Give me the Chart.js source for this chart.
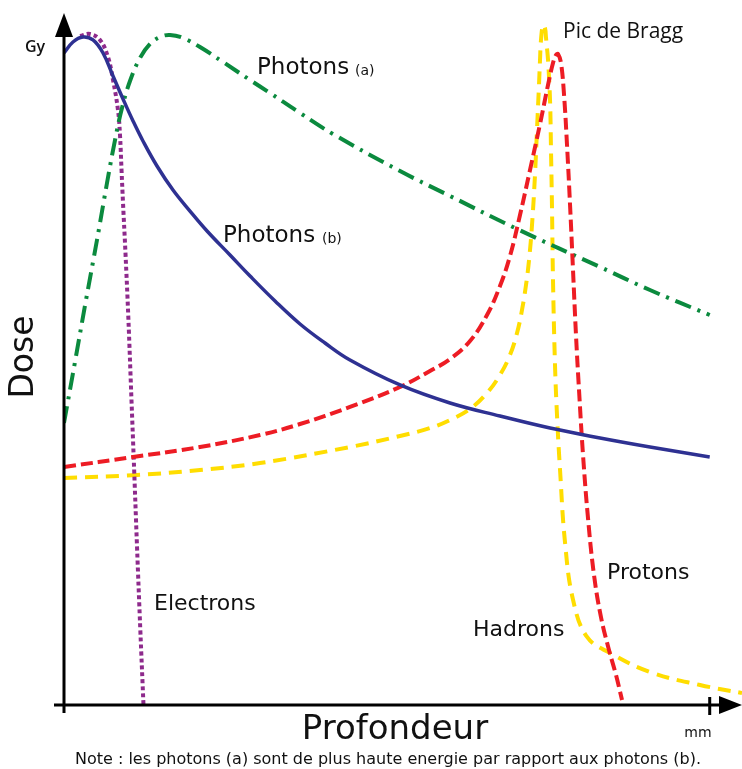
<!DOCTYPE html>
<html>
<head>
<meta charset="utf-8">
<script src="https://cdn.jsdelivr.net/npm/chart.js@4.4.0/dist/chart.umd.min.js"></script>
<style>
    body { margin: 0; background: #fff; }
    #wrap { width: 742px; height: 769px; position: relative; }
</style>
</head>
<body>
<div id="wrap"><canvas id="doseChart"></canvas></div>
<script>
// ============= Courbes de dose en fonction de la profondeur =============

// profondeur (mm) et dose (% du max)
const photonsBX = [0, 1.39, 2.94, 4.49, 6.04, 7.59, 9.14, 10.69, 12.23, 14.40, 16.88, 19.51, 22.15, 25.71, 28.81, 32.68, 36.55, 40.42, 44.29, 52.04, 59.78, 67.52, 75.27, 83.01, 90.75, 100]
const photonsBY = [94.49, 96.09, 96.81, 96.38, 94.49, 91.16, 87.83, 84.64, 81.74, 78.12, 74.64, 71.59, 68.70, 65.22, 62.17, 58.55, 55.22, 52.46, 50.00, 46.38, 43.77, 41.88, 40.14, 38.70, 37.39, 35.94]

const photonsAX = [0, 1.70, 3.41, 5.11, 6.66, 7.90, 8.98, 10.22, 11.77, 13.32, 14.87, 16.42, 18.43, 21.06, 24.62, 28.81, 31.90, 36.55, 41.66, 52.04, 59.78, 70.16, 83.01, 90.75, 100]
const photonsAY = [40.87, 49.71, 58.70, 67.39, 75.65, 81.88, 86.52, 90.43, 93.77, 95.80, 96.81, 97.10, 96.67, 95.36, 93.19, 90.58, 88.70, 85.80, 82.75, 77.39, 73.77, 68.99, 63.48, 60.14, 56.52]

const electronsX = [2.48, 4.03, 5.58, 6.81, 7.59, 8.36, 8.67, 8.91, 9.14, 9.52, 9.96, 10.45, 10.79, 11.31, 11.82, 12.31]
const electronsY = [96.96, 97.25, 96.38, 93.91, 90.58, 86.23, 82.61, 77.54, 72.75, 65.51, 56.23, 44.20, 35.94, 22.90, 10.87, 0]

const protonsX = [0, 10.69, 21.06, 30.35, 36.55, 44.29, 52.04, 56.68, 59.78, 62.88, 65.51, 67.52, 69.07, 70.62, 72.17, 73.72, 74.96, 75.73, 76.20, 76.51, 76.97, 77.44, 77.90, 78.37, 78.83, 79.29, 79.76, 80.38, 81.15, 82.08, 83.16, 84.40, 85.49, 86.42]
const protonsY = [34.49, 35.94, 37.39, 39.13, 40.72, 43.19, 46.09, 48.41, 50.14, 52.75, 56.52, 60.72, 65.07, 71.01, 77.54, 84.20, 89.86, 93.04, 94.20, 94.35, 93.04, 88.41, 81.16, 72.46, 63.04, 53.62, 45.65, 36.23, 27.10, 18.84, 12.75, 7.97, 4.35, 0.72]

const hadronsX = [0, 11.31, 21.06, 30.35, 44.29, 52.04, 56.68, 59.78, 62.88, 65.51, 67.52, 69.07, 70.16, 70.93, 71.55, 72.02, 72.48, 72.94, 73.25, 73.56, 73.72, 73.87, 74.18, 74.49, 74.65, 74.80, 74.96, 75.27, 75.42, 75.58, 75.73, 76.04, 76.35, 76.82, 77.60, 78.84, 81.00, 84.56, 90.75, 98.50, 105]
const hadronsY = [32.90, 33.33, 34.06, 35.07, 37.39, 38.99, 40.14, 41.30, 42.90, 45.22, 47.83, 50.72, 53.91, 57.25, 60.87, 64.49, 69.57, 76.81, 83.33, 89.86, 93.48, 96.38, 98.55, 98.12, 96.67, 95.22, 93.48, 87.68, 80.43, 71.74, 61.59, 49.28, 42.03, 34.06, 23.48, 15.22, 9.86, 7.54, 4.78, 2.90, 1.74]

const xMax = 105
const yMax = 100

function pts(xs, ys) {
    return xs.map((x, i) => ({ x: x, y: ys[i] }))
}

const labelFont = '"DejaVu Sans", sans-serif'

// axes avec flèches + textes
const axesPlugin = {
    id: 'axesPlugin',
    afterDatasetsDraw(chart) {
        const ctx = chart.ctx
        const a = chart.chartArea
        const x0 = a.left
        const y0 = a.bottom
        const xTick = chart.scales.x.getPixelForValue(100)

        ctx.save()
        ctx.strokeStyle = '#000'
        ctx.fillStyle = '#000'
        ctx.lineWidth = 3

        ctx.beginPath()
        ctx.moveTo(x0, y0 + 8)
        ctx.lineTo(x0, 30)
        ctx.moveTo(x0 - 10, y0)
        ctx.lineTo(725, y0)
        ctx.moveTo(xTick, y0 - 8)
        ctx.lineTo(xTick, y0 + 10)
        ctx.stroke()

        ctx.beginPath()
        ctx.moveTo(x0, 13)
        ctx.lineTo(x0 + 9, 37)
        ctx.lineTo(x0 - 9, 37)
        ctx.closePath()
        ctx.fill()

        ctx.beginPath()
        ctx.moveTo(742, y0)
        ctx.lineTo(719, y0 - 9)
        ctx.lineTo(719, y0 + 9)
        ctx.closePath()
        ctx.fill()

        ctx.textBaseline = 'middle'
        ctx.fillStyle = '#111'

        ctx.font = '600 16px "Open Sans", sans-serif'
        ctx.textAlign = 'left'
        ctx.fillText('Gy', 25, 47)

        ctx.font = '21px "Open Sans", sans-serif'
        ctx.fillText('Pic de Bragg', 563, 32)

        ctx.font = '23px ' + labelFont
        ctx.fillText('Photons', 257, 68)
        ctx.fillText('Photons', 223, 236)
        ctx.font = '22px ' + labelFont
        ctx.fillText('Electrons', 154, 604)
        ctx.fillText('Protons', 607, 573)
        ctx.fillText('Hadrons', 473, 630)
        ctx.font = '14px ' + labelFont
        ctx.fillText('(a)', 355, 71)
        ctx.fillText('(b)', 322, 239)

        ctx.font = '14px ' + labelFont
        ctx.textAlign = 'center'
        ctx.fillText('mm', 698, 733)

        ctx.font = '34px ' + labelFont
        ctx.fillText('Profondeur', 395, 730)

        ctx.font = '16px ' + labelFont
        ctx.fillText('Note : les photons (a) sont de plus haute energie par rapport aux photons (b).', 388, 760)

        ctx.translate(24, 357)
        ctx.rotate(-Math.PI / 2)
        ctx.font = '33px ' + labelFont
        ctx.fillText('Dose', 0, 0)
        ctx.restore()
    }
}

const ctx = document.getElementById('doseChart').getContext('2d')

new Chart(ctx, {
    type: 'line',
    data: {
        datasets: [
            {
                label: 'Photons (b)',
                data: pts(photonsBX, photonsBY),
                borderColor: '#2E3192',
                borderWidth: 3.5
            },
            {
                label: 'Protons',
                data: pts(protonsX, protonsY),
                borderColor: '#ED1C24',
                borderWidth: 4,
                borderDash: [12, 5]
            },
            {
                label: 'Photons (a)',
                data: pts(photonsAX, photonsAY),
                borderColor: '#0B8A3E',
                borderWidth: 4,
                borderDash: [17, 7, 3, 7]
            },
            {
                label: 'Electrons',
                data: pts(electronsX, electronsY),
                borderColor: '#8E2A8C',
                borderWidth: 4,
                borderDash: [4, 3]
            },
            {
                label: 'Hadrons',
                data: pts(hadronsX, hadronsY),
                borderColor: '#FFDD00',
                borderWidth: 4,
                borderDash: [13, 8]
            }
        ]
    },
    options: {
        responsive: true,
        maintainAspectRatio: false,
        animation: false,
        layout: {
            padding: { left: 64, right: 0, top: 15, bottom: 64 }
        },
        elements: {
            point: { radius: 0 },
            line: { tension: 0.4, fill: false, borderCapStyle: 'butt' }
        },
        plugins: {
            legend: { display: false },
            tooltip: { enabled: false }
        },
        scales: {
            x: { type: 'linear', min: 0, max: xMax, display: false },
            y: { min: 0, max: yMax, display: false }
        }
    },
    plugins: [axesPlugin]
})
</script>
</body>
</html>
